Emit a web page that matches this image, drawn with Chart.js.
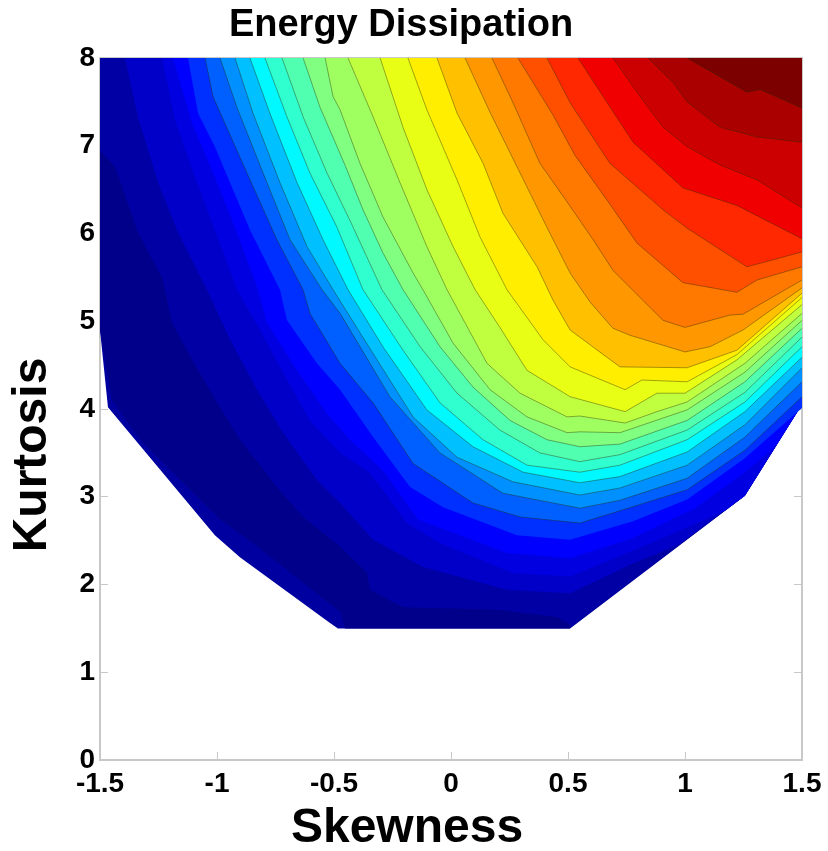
<!DOCTYPE html>
<html>
<head>
<meta charset="utf-8">
<title>Energy Dissipation</title>
<script src="https://cdn.jsdelivr.net/npm/chart.js@4"></script>
<style>
  html, body { margin: 0; padding: 0; background: #fff; }
  canvas { display: block; }
</style>
</head>
<body>
<canvas id="contourChart" width="828" height="851"></canvas>
<script>
const xTickValues = [-1.5, -1, -0.5, 0, 0.5, 1, 1.5];
const yTickValues = [0, 1, 2, 3, 4, 5, 6, 7, 8];

// every contour is [skewness, kurtosis], low level to high level
const domainEdge = [[-1.5,8],[-1.5,4.9],[-1.466,4.02],[-1.009,2.56],[-0.902,2.31],[-0.517,1.56],[-0.483,1.5],[0.509,1.5],[1.256,3.01],[1.5,4.05]];
const valleyEdge = [[-1.5,6.84],[-1.5,4.9],[-1.449,4.1],[-1.329,3.65],[-0.987,2.74],[-0.88,2.54],[-0.474,1.69],[-0.453,1.5],[0.509,1.5]];
const level01 = [[-1.5,6.95],[-1.436,6.76],[-1.338,6.01],[-1.235,5.5],[-1.192,4.98],[-1.107,4.56],[-1,4.07],[-0.902,3.65],[-0.744,3.11],[-0.632,2.77],[-0.474,2.43],[-0.359,2.13],[-0.346,1.94],[-0.205,1.74],[0.094,1.72],[0.209,1.71],[0.453,1.63],[0.517,1.53],[1.256,3.01],[1.5,4.05]];
const level02 = [[-1.393,8],[-1.338,7.33],[-1.252,6.58],[-1.167,6.01],[-1.043,5.36],[-0.944,4.79],[-0.829,4.22],[-0.718,3.73],[-0.573,3.19],[-0.474,2.93],[-0.333,2.51],[-0.12,2.2],[0.239,1.94],[0.509,1.9],[0.778,2.24],[0.97,2.45],[1.256,3.01],[1.5,4.05]];
const level03 = [[-1.235,8],[-1.179,7.29],[-1.094,6.64],[-1.009,6.04],[-0.915,5.36],[-0.816,4.9],[-0.701,4.33],[-0.603,3.87],[-0.474,3.5],[-0.346,3.27],[-0.188,2.7],[-0.047,2.47],[0.265,2.13],[0.509,2.09],[0.808,2.42],[1.043,2.69],[1.171,2.84],[1.256,3.01],[1.5,4.05]];
const level04 = [[-1.188,8],[-1.107,7.26],[-1.009,6.64],[-0.91,5.98],[-0.825,5.36],[-0.786,4.98],[-0.658,4.44],[-0.53,3.95],[-0.432,3.65],[-0.291,3.3],[-0.141,2.74],[0.239,2.36],[0.509,2.3],[0.778,2.53],[1.043,2.87],[1.256,3.28],[1.385,3.57],[1.5,4.05]];
const level05 = [[-1.124,8],[-1.081,7.37],[-1.009,6.99],[-0.859,6.04],[-0.731,5.36],[-0.701,5.01],[-0.573,4.52],[-0.474,4.22],[-0.333,3.68],[-0.175,3.11],[-0.034,2.88],[0.282,2.56],[0.509,2.51],[0.778,2.72],[1.009,2.97],[1.256,3.44],[1.5,4.01]];
const level06 = [[-1.051,8],[-1.017,7.56],[-0.872,6.69],[-0.744,5.93],[-0.632,5.36],[-0.603,5.09],[-0.474,4.52],[-0.333,4.07],[-0.162,3.38],[0.094,2.93],[0.295,2.77],[0.551,2.7],[0.722,2.84],[1.009,3.08],[1.256,3.53],[1.5,4.14]];
const level07 = [[-0.987,8],[-0.915,7.44],[-0.803,6.69],[-0.688,5.93],[-0.551,5.36],[-0.474,5.09],[-0.261,4.14],[-0.047,3.5],[0.222,3.04],[0.551,2.87],[0.722,2.96],[1.009,3.21],[1.256,3.68],[1.5,4.31]];
const level08 = [[-0.923,8],[-0.846,7.37],[-0.731,6.58],[-0.615,5.85],[-0.504,5.36],[-0.389,4.87],[-0.162,3.91],[0.026,3.45],[0.265,3.17],[0.551,3.02],[0.722,3.1],[1.009,3.36],[1.256,3.82],[1.5,4.47]];
const level09 = [[-0.859,8],[-0.774,7.37],[-0.658,6.58],[-0.547,5.93],[-0.44,5.36],[-0.291,4.71],[-0.103,3.99],[0.094,3.57],[0.308,3.28],[0.551,3.16],[0.722,3.23],[1.009,3.51],[1.256,3.97],[1.5,4.59]];
const level10 = [[-0.795,8],[-0.701,7.33],[-0.603,6.69],[-0.487,6.07],[-0.376,5.36],[-0.205,4.67],[-0.047,4.07],[0.137,3.65],[0.325,3.36],[0.551,3.28],[0.722,3.36],[1.009,3.65],[1.256,4.08],[1.5,4.71]];
const level11 = [[-0.722,8],[-0.632,7.33],[-0.53,6.69],[-0.432,6.15],[-0.295,5.36],[-0.132,4.71],[0.026,4.18],[0.209,3.76],[0.38,3.5],[0.551,3.4],[0.722,3.48],[1.009,3.76],[1.256,4.19],[1.5,4.82]];
const level12 = [[-0.632,8],[-0.56,7.44],[-0.453,6.78],[-0.376,6.27],[-0.291,5.78],[-0.205,5.36],[-0.047,4.71],[0.094,4.25],[0.252,3.87],[0.41,3.65],[0.551,3.57],[0.722,3.6],[1.009,3.87],[1.256,4.31],[1.5,4.92]];
const level13 = [[-0.538,8],[-0.504,7.56],[-0.474,7.41],[-0.389,6.8],[-0.291,6.19],[-0.162,5.55],[-0.12,5.36],[0.009,4.75],[0.167,4.22],[0.325,3.91],[0.496,3.73],[0.551,3.74],[0.722,3.73],[1.009,3.99],[1.256,4.42],[1.5,5.01]];
const level14 = [[-0.44,8],[-0.333,7.33],[-0.218,6.58],[-0.103,5.85],[-0.017,5.36],[0.154,4.52],[0.295,4.18],[0.496,3.91],[0.551,3.92],[0.744,3.84],[0.88,3.97],[1.009,4.08],[1.256,4.52],[1.5,5.09]];
const level15 = [[-0.303,8],[-0.205,7.21],[-0.103,6.5],[0.009,5.85],[0.103,5.36],[0.209,4.93],[0.325,4.44],[0.509,4.14],[0.744,3.97],[0.88,4.18],[1,4.18],[1.222,4.56],[1.5,5.19]];
const level16 = [[-0.184,8],[-0.103,7.41],[0.026,6.61],[0.124,5.96],[0.239,5.36],[0.393,4.79],[0.509,4.48],[0.744,4.22],[0.816,4.33],[1.009,4.31],[1.222,4.62],[1.5,5.27]];
const level17 = [[-0.06,8],[0.026,7.37],[0.137,6.8],[0.222,6.23],[0.368,5.62],[0.436,5.24],[0.509,4.9],[0.722,4.48],[1.009,4.47],[1.222,4.67],[1.5,5.32]];
const level18 = [[0.06,8],[0.167,7.38],[0.282,6.76],[0.41,6.07],[0.509,5.55],[0.594,5.22],[0.692,4.92],[0.765,4.84],[1,4.65],[1.107,4.71],[1.248,4.9],[1.5,5.38]];
const level19 = [[0.175,8],[0.265,7.49],[0.38,6.8],[0.491,6.38],[0.607,5.93],[0.692,5.58],[0.906,5.01],[1,4.93],[1.192,5.07],[1.248,5.08],[1.5,5.47]];
const level20 = [[0.286,8],[0.436,7.35],[0.53,6.89],[0.667,6.38],[0.795,5.89],[0.991,5.44],[1.222,5.33],[1.308,5.47],[1.5,5.62]];
const level21 = [[0.41,8],[0.509,7.49],[0.679,6.8],[0.906,6.27],[1.009,6.06],[1.265,5.62],[1.5,5.79]];
const level22 = [[0.543,8],[0.65,7.56],[0.778,7.04],[0.991,6.52],[1.222,6.32],[1.5,5.94]];
const level23 = [[0.692,8],[0.808,7.56],[0.906,7.21],[1.009,6.99],[1.15,6.78],[1.308,6.61],[1.5,6.29]];
const level24 = [[0.842,8],[0.949,7.72],[1.009,7.5],[1.15,7.21],[1.308,7.1],[1.5,7.04]];
const level25 = [[1.009,8],[1.265,7.61],[1.321,7.64],[1.5,7.43]];

const contours = [domainEdge, valleyEdge, level01, level02, level03, level04, level05, level06, level07, level08, level09, level10, level11, level12, level13, level14, level15, level16, level17, level18, level19, level20, level21, level22, level23, level24, level25];

const bandColors = ["#0000a0", "#00008a", "#0000a4", "#0000c8", "#0000e0", "#0000ff", "#0030ff", "#0060ff", "#0090ff", "#00c0ff", "#00f8ff", "#30ffd0", "#50ffb0", "#80ff80", "#a0ff60", "#c0ff40", "#e8ff15", "#ffee00", "#ffc000", "#ff9800", "#ff7800", "#ff5000", "#ff2800", "#f00000", "#cc0000", "#aa0000", "#7c0000"];

const firstLinedContour = 7;
const lineColor = "rgba(40,40,0,0.4)";
const axisColor = "#c8c8c8";
const textFont = "'Liberation Sans', Arial, sans-serif";

// Chart.js paints the highest order first, so the low levels go underneath
const datasets = contours.map((points, i) => ({
  data: points.map(([x, y]) => ({ x, y })),
  order: contours.length - i,
  showLine: true,
  fill: "end",
  tension: 0,
  pointRadius: 0,
  backgroundColor: bandColors[i],
  borderColor: i >= firstLinedContour ? lineColor : "transparent",
  borderWidth: i >= firstLinedContour ? 1 : 0,
}));

function axisOptions(position, tickValues, axisId, min, max) {
  const isMain = position === "bottom" || position === "left";
  const isX = position === "bottom" || position === "top";
  return {
    type: "linear",
    axis: axisId,
    position,
    min,
    max,
    afterBuildTicks: (scale) => {
      scale.ticks = tickValues.map((value) => ({ value }));
    },
    afterFit: (scale) => {
      if (isX) scale.height = isMain ? 91 : 0;
      else scale.width = isMain ? 100 : 0;
      // the outer tick labels would otherwise shrink the plot area
      scale.paddingLeft = scale.paddingRight = scale.paddingTop = scale.paddingBottom = 0;
    },
    border: { display: true, color: axisColor, width: 2 },
    grid: { drawOnChartArea: false, drawTicks: true, tickLength: -8, color: axisColor, lineWidth: 1 },
    ticks: {
      display: isMain,
      autoSkip: false,
      maxRotation: 0,
      padding: isX ? 15 : 13,
      color: "#000",
      font: { family: textFont, size: 28, weight: "bold" },
      callback: (value) => String(value),
    },
  };
}

// axis captions sit off centre in the reference, which scale titles can't do
const axisCaptions = {
  id: "axisCaptions",
  afterDraw(chart) {
    const ctx = chart.ctx;
    ctx.save();
    ctx.fillStyle = "#000";
    ctx.font = "bold 48px " + textFont;
    ctx.textAlign = "center";
    ctx.textBaseline = "middle";
    ctx.fillText("Skewness", 407, 829);
    ctx.translate(33, 455);
    ctx.rotate(-Math.PI / 2);
    ctx.fillText("Kurtosis", 0, 0);
    ctx.restore();
  },
};

new Chart(document.getElementById("contourChart"), {
  type: "scatter",
  data: { datasets },
  plugins: [axisCaptions],
  options: {
    responsive: false,
    animation: false,
    layout: { padding: { left: 0, right: 26, top: 0, bottom: 0 } },
    plugins: {
      legend: { display: false },
      tooltip: { enabled: false },
      title: {
        display: true,
        text: "Energy Dissipation",
        color: "#000",
        font: { family: textFont, size: 38, weight: "bold", lineHeight: 1.2 },
        padding: { top: 3, bottom: 9.4 },
      },
    },
    scales: {
      x: axisOptions("bottom", xTickValues, "x", -1.5, 1.5),
      y: axisOptions("left", yTickValues, "y", 0, 8),
      x2: axisOptions("top", xTickValues, "x", -1.5, 1.5),
      y2: axisOptions("right", yTickValues, "y", 0, 8),
    },
  },
});
</script>
</body>
</html>
